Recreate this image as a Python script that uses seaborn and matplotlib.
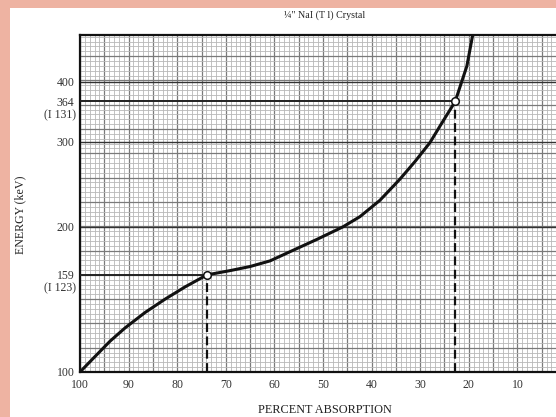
import numpy as np
import pandas as pd
import matplotlib
matplotlib.use("Agg")
import matplotlib.pyplot as plt
from matplotlib.patches import Rectangle
from matplotlib.ticker import MultipleLocator, NullLocator, FixedLocator
import seaborn as sns

# curve: percent absorption vs energy (keV)
absorption = [100, 96.9, 93.8, 90.7, 86.6, 82.5, 78.4, 73.9, 69.1, 65.0, 60.9, 56.8,
              51.2, 45.9, 42.4, 38.3, 34.2, 31.1, 28.0, 25.9, 22.8, 20.4, 19.2]
energy = [100, 107.7, 115.9, 123.5, 132.9, 141.6, 150.1, 159, 162.3, 165.5, 170, 177.6,
          188.5, 200, 210, 227, 251, 273, 299, 324, 364, 431, 500]

# marked photopeaks
peak_abs = [73.9, 22.8]
peak_kev = [159, 364]
peak_iso = ["(I 123)", "(I 131)"]

x_ticks = [100, 90, 80, 70, 60, 50, 40, 30, 20, 10]
y_ticks = [100, 159, 200, 300, 364, 400]
dark_rows = [200, 300, 400]

sns.set_style("white")
plt.rcParams["font.family"] = ["Liberation Serif", "DejaVu Serif"]

fig = plt.figure(figsize=(5.56, 4.17), dpi=100)
fig.patch.set_facecolor("#eeb3a2")
fig.patches.append(Rectangle((10 / 556, 0), 1, 1 - 8 / 417, transform=fig.transFigure,
                             facecolor="white", edgecolor="none", zorder=-5))

pos = [80 / 556, 45 / 417, 486 / 556, 337 / 417]

# graph paper grid on its own linear axes underneath
gax = fig.add_axes(pos, zorder=0)
gax.set_xlim(100, 0)
gax.set_ylim(0, 337 / 4.86)
for axis in (gax.xaxis, gax.yaxis):
    axis.set_major_locator(MultipleLocator(5))
    axis.set_minor_locator(MultipleLocator(1))
gax.grid(which="minor", color="#b8b8b8", lw=0.6)
gax.grid(which="major", color="#7a7a7a", lw=0.9)
gax.tick_params(which="both", length=0, labelleft=False, labelbottom=False)
gax.set_facecolor("white")
for s in gax.spines.values():
    s.set_visible(False)

ax = fig.add_axes(pos, zorder=1)
ax.patch.set_visible(False)
ax.set_yscale("log")
ax.set_xlim(100, 0)
ax.set_ylim(100, 500)

for v in dark_rows:
    ax.axhline(v, color="#333333", lw=1.0, zorder=1)

df = pd.DataFrame({"absorption": absorption, "energy": energy})
sns.lineplot(data=df, x="absorption", y="energy", ax=ax, color="#111111", lw=2.2,
             sort=False, zorder=4)

for a, e, iso in zip(peak_abs, peak_kev, peak_iso):
    ax.plot([100, a], [e, e], color="#222222", lw=1.4, zorder=3)
    ax.plot([a, a], [100, e], color="#111111", lw=1.6, ls=(0, (4, 2)), zorder=3)
    ax.annotate(iso, xy=(0, e), xycoords=("axes fraction", "data"), xytext=(-3, -10),
                textcoords="offset points", ha="right", va="center", fontsize=8.5,
                color="#333333")

sns.scatterplot(x=peak_abs, y=peak_kev, ax=ax, s=30, facecolor="white",
                edgecolor="#111111", linewidth=1.1, zorder=5)

ax.xaxis.set_major_locator(FixedLocator(x_ticks))
ax.set_xticklabels([str(t) for t in x_ticks])
ax.yaxis.set_major_locator(FixedLocator(y_ticks))
ax.yaxis.set_minor_locator(NullLocator())
ax.set_yticklabels([str(t) for t in y_ticks])
ax.tick_params(axis="both", length=0, labelsize=8.5, colors="#333333")
ax.tick_params(axis="x", pad=5)
ax.tick_params(axis="y", pad=4)
ax.set_xlabel("")
ax.set_ylabel("")
for s in ax.spines.values():
    s.set_color("#111111")
    s.set_linewidth(1.6)

fig.text(325 / 556, 1 - 15 / 417, "¼\" NaI (T l) Crystal", ha="center", va="center",
         fontsize=7.2, color="#222222")
fig.text(325 / 556, 7 / 417, "PERCENT ABSORPTION", ha="center", va="center",
         fontsize=8.8, color="#222222")
fig.text(20 / 556, 202 / 417, "ENERGY (keV)", ha="center", va="center",
         rotation=90, fontsize=8.6, color="#222222")

fig.savefig("out.png", dpi=100)
